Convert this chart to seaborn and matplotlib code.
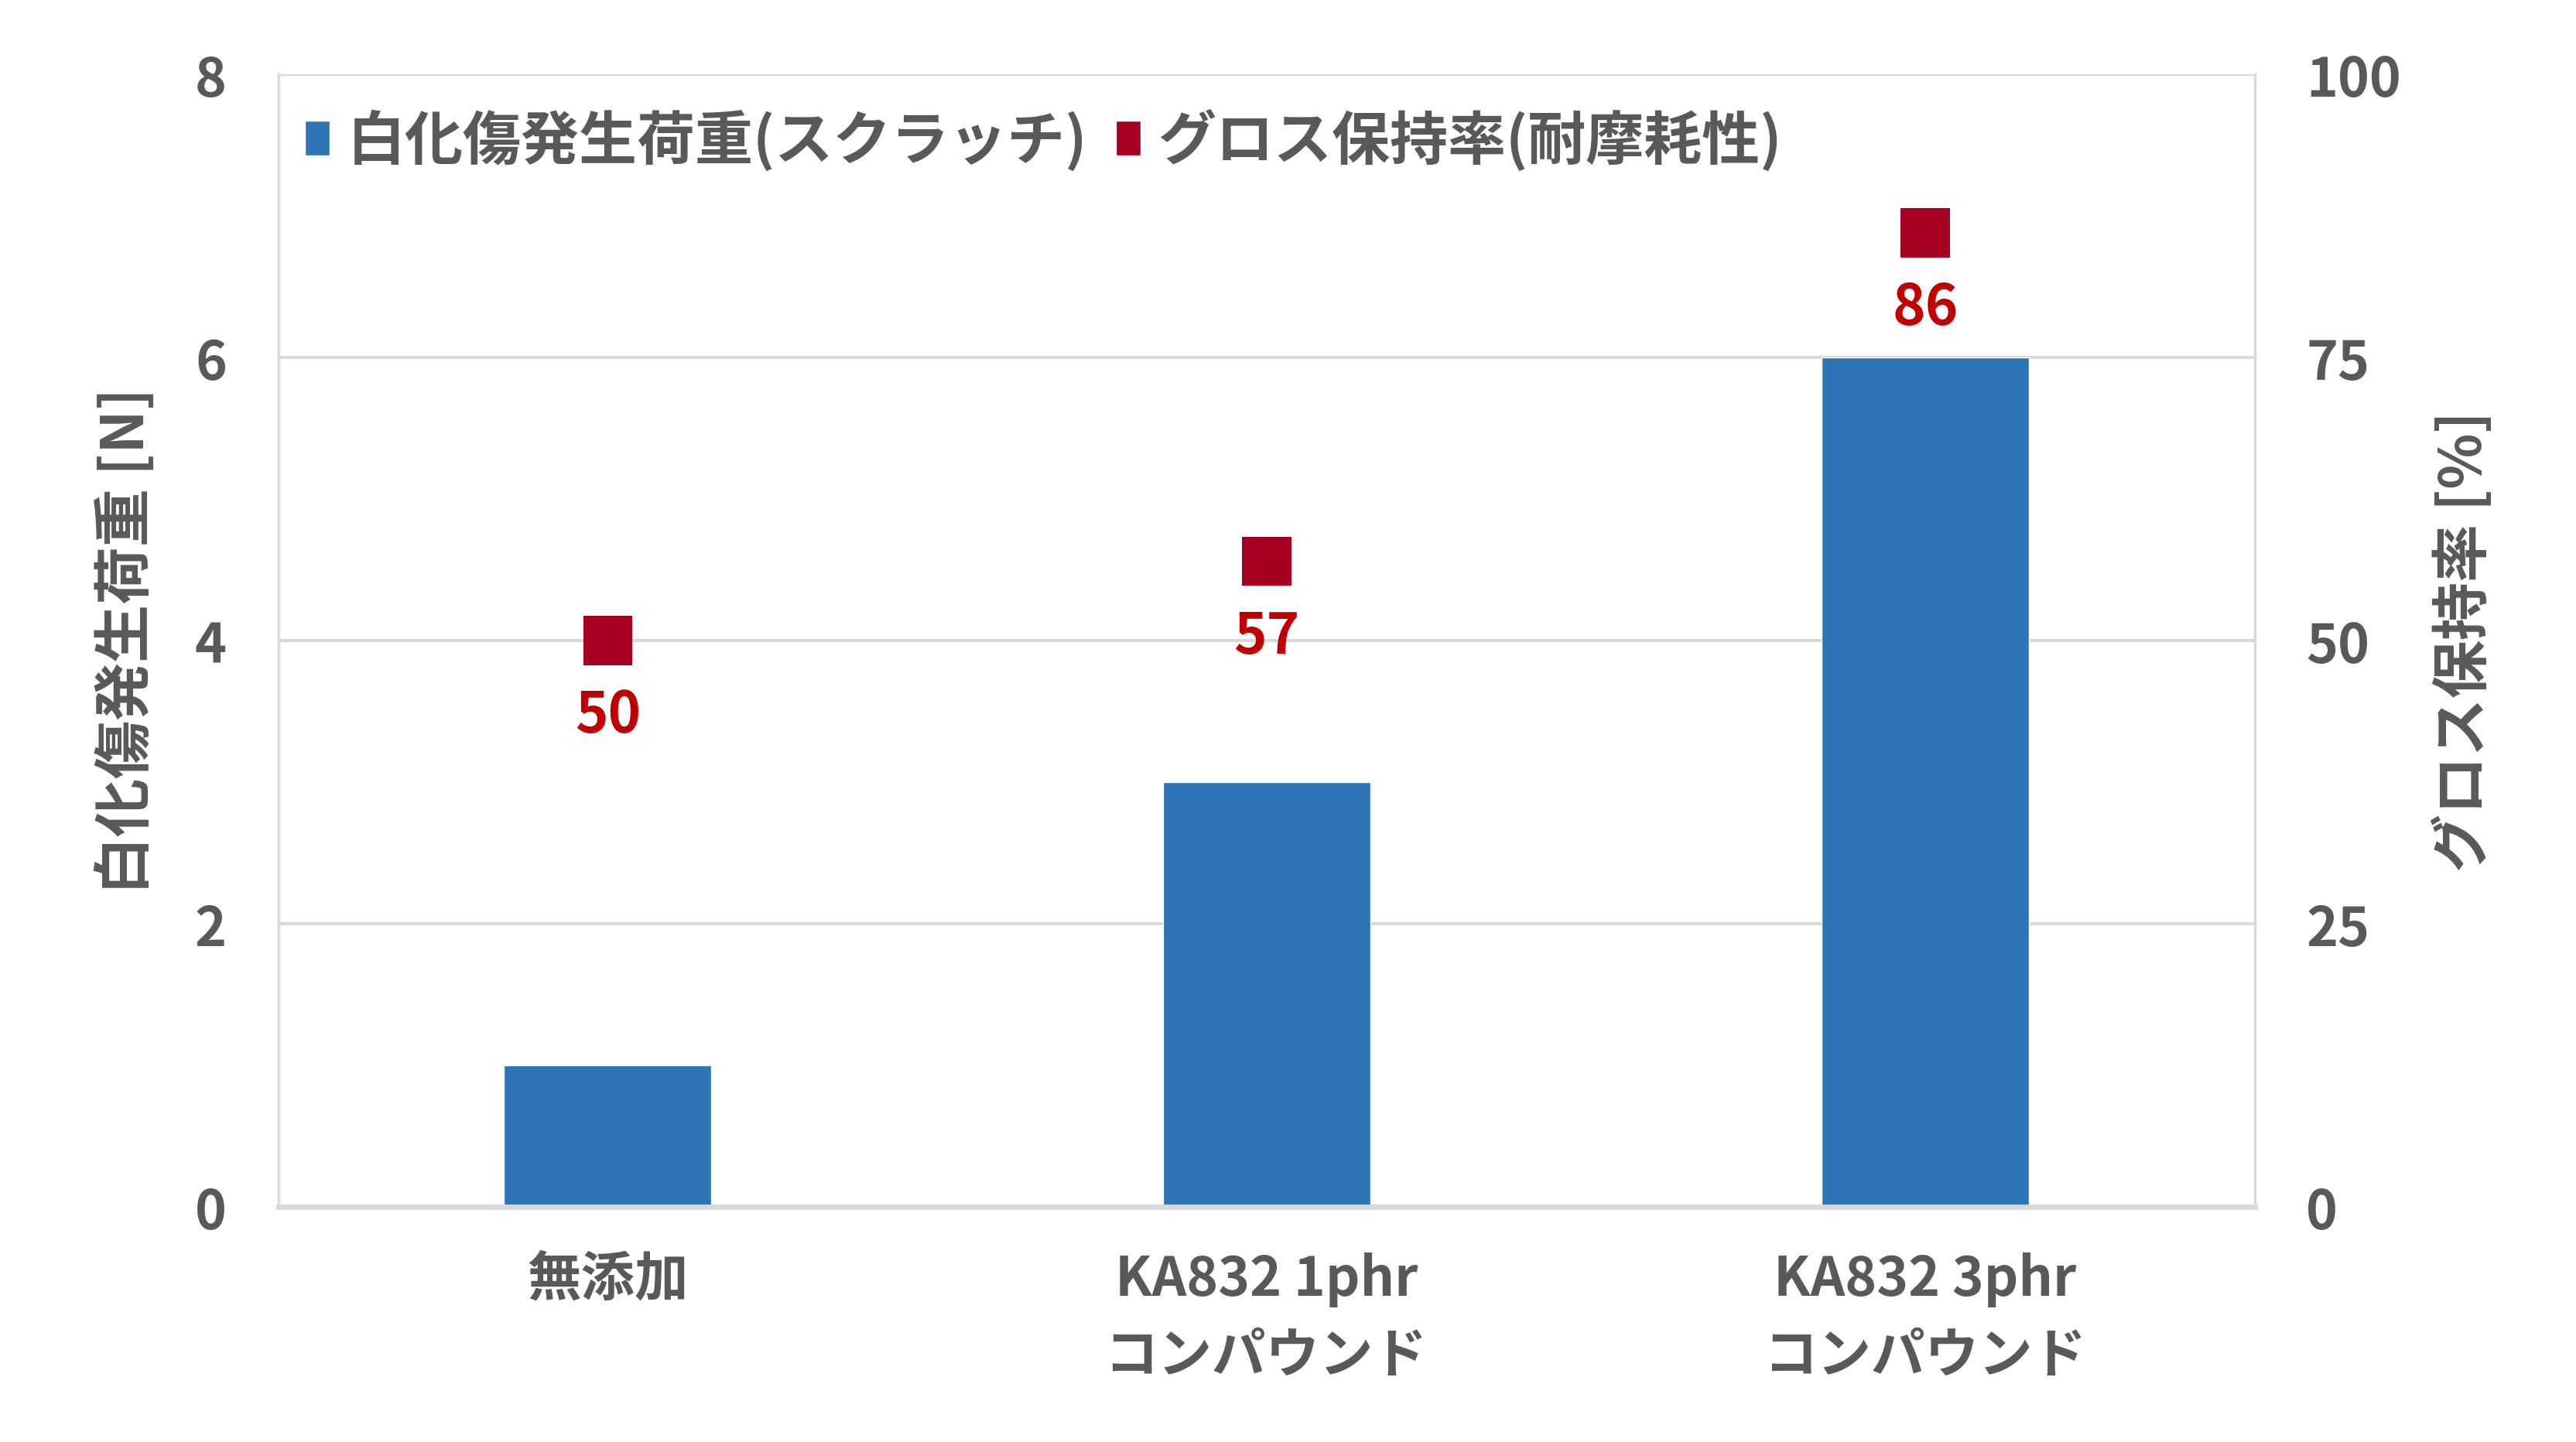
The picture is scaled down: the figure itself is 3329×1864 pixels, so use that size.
import numpy as np
import pandas as pd
import matplotlib
matplotlib.use("Agg")
import matplotlib.pyplot as plt
import seaborn as sns
from matplotlib.patches import Patch

categories = ["無添加", "KA832 1phr\nコンパウンド", "KA832 3phr\nコンパウンド"]
load_n = [1, 3, 6]
gloss_pct = [50, 57, 86]

bar_label = "白化傷発生荷重(スクラッチ)"
gloss_label = "グロス保持率(耐摩耗性)"
left_title = "白化傷発生荷重 [N]"
right_title = "グロス保持率 [%]"

blue = "#2E75B6"
red = "#A50021"
label_red = "#C00000"
gray = "#595959"
grid = "#D9D9D9"

sns.set_theme(style="white")
plt.rcParams["font.family"] = ["Noto Sans CJK JP", "DejaVu Sans"]
plt.rcParams["font.weight"] = "bold"

df = pd.DataFrame({"cat": categories, "load": load_n, "gloss": gloss_pct})

fig = plt.figure(figsize=(33.3, 18.65), dpi=100)
ax = fig.add_axes([0.108, 0.163, 0.767, 0.785])

sns.barplot(data=df, x="cat", y="load", color=blue, width=0.315,
            saturation=1, ax=ax, zorder=3)
ax.set_ylim(0, 8)
ax.set_yticks([0, 2, 4, 6, 8])
ax.set_xlim(-0.5, 2.5)
ax.yaxis.grid(True, color=grid, linewidth=3)
ax.set_axisbelow(True)

ax2 = ax.twinx()
sns.scatterplot(data=df, x="cat", y="gloss", marker="s", s=2100, color=red,
                edgecolor="none", ax=ax2, zorder=4, legend=False)
ax2.set_ylim(0, 100)
ax2.set_yticks([0, 25, 50, 75, 100])
ax2.set_xlim(-0.5, 2.5)

for i, v in enumerate(gloss_pct):
    ax2.annotate(str(v), (i, v), xytext=(0, -70), textcoords="offset points",
                 ha="center", va="center", fontsize=52, fontweight="bold",
                 color=label_red)

for a in (ax, ax2):
    for s in a.spines.values():
        s.set_visible(False)
    a.set_xlabel("")
    a.set_ylabel("")
    a.tick_params(axis="y", length=0, pad=48, labelsize=50, labelcolor=gray)

ax.spines["bottom"].set_visible(True)
ax.spines["bottom"].set_color(grid)
ax.spines["bottom"].set_linewidth(5)
ax.spines["bottom"].set_zorder(5)
ax.spines["left"].set_visible(True)
ax.spines["left"].set_color(grid)
ax.spines["left"].set_linewidth(2.5)
ax.spines["right"].set_visible(True)
ax.spines["right"].set_color(grid)
ax.spines["right"].set_linewidth(2.5)

ax.set_xticks([0, 1, 2])
ax.set_xticklabels(categories, fontsize=50, color=gray, fontweight="bold",
                   linespacing=1.5)
ax.tick_params(axis="x", length=0, pad=42)
ax.set_xticks([-0.5, 0.5, 1.5, 2.5], minor=True)
ax.tick_params(axis="x", which="minor", length=18, width=2.5, color=grid)

ax.set_ylabel(left_title, fontsize=54, color=gray, fontweight="bold", labelpad=36)
ax2.set_ylabel(right_title, fontsize=54, color=gray, fontweight="bold", labelpad=30)

handles = [Patch(facecolor=blue, label=bar_label),
           Patch(facecolor=red, label=gloss_label)]
ax.legend(handles=handles, loc="upper left", bbox_to_anchor=(-0.004, 1.0),
          ncol=2, frameon=False, fontsize=54, handlelength=0.42,
          handleheight=0.55, handletextpad=0.3, columnspacing=0.5,
          labelcolor=gray, borderaxespad=0.2)

fig.savefig("out.png", dpi=100, facecolor="white")
